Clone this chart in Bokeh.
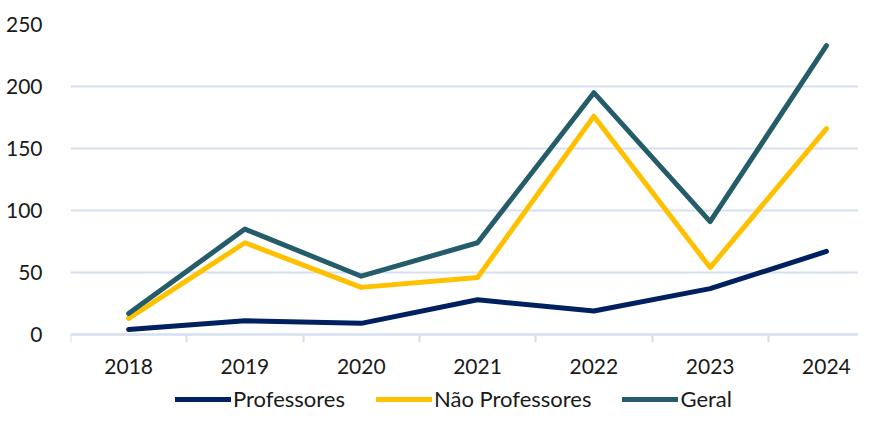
from bokeh.plotting import figure
from bokeh.models import Range1d, FixedTicker, Legend, LegendItem
from bokeh.embed import file_html
from bokeh.resources import INLINE

years = [2018, 2019, 2020, 2021, 2022, 2023, 2024]
professores = [4, 11, 9, 28, 19, 37, 67]
nao_professores = [13, 74, 38, 46, 176, 54, 166]
geral = [17, 85, 47, 74, 195, 91, 233]
y_ticks = [0, 50, 100, 150, 200, 250]

FONT = "Lato"
GRID = "#D6E0F0"
FW = 788             # frame width (px)
LEFT, TOP = 70, 24   # borders (px)
PLOT_H = 310         # px between value 0 and value 250
BELOW = 78           # px below the zero line (axis labels + legend)
CAT_PX = 116.3       # px per category
px_per_unit = PLOT_H / 250

p = figure(
    frame_width=FW, frame_height=PLOT_H + BELOW,
    min_border_left=LEFT, min_border_right=0, min_border_top=TOP, min_border_bottom=0,
    x_range=Range1d(years[0] - 0.5, years[0] - 0.5 + FW / CAT_PX),
    y_range=Range1d(-BELOW / px_per_unit, 250),
    output_backend="svg", toolbar_location=None,
)
p.outline_line_color = None
p.background_fill_color = "white"

# axes
p.yaxis.ticker = FixedTicker(ticks=y_ticks)
p.yaxis.axis_line_color = None
p.yaxis.major_tick_line_color = None
p.yaxis.minor_tick_line_color = None
p.yaxis.major_label_text_font = FONT
p.yaxis.major_label_text_font_size = "21px"
p.yaxis.major_label_text_color = "#1a1a1a"
p.yaxis.major_label_standoff = 22

p.xaxis.fixed_location = 0
p.xaxis.ticker = FixedTicker(ticks=years, minor_ticks=[y - 0.5 for y in years] + [years[-1] + 0.5])
p.xaxis.axis_line_color = GRID
p.xaxis.axis_line_width = 2
p.xaxis.major_tick_line_color = None
p.xaxis.major_tick_out = 0
p.xaxis.major_tick_in = 0
p.xaxis.minor_tick_line_color = GRID
p.xaxis.minor_tick_line_width = 2
p.xaxis.minor_tick_out = 8
p.xaxis.minor_tick_in = 0
p.xaxis.major_label_text_font = FONT
p.xaxis.major_label_text_font_size = "21px"
p.xaxis.major_label_text_color = "#1a1a1a"
p.xaxis.major_label_standoff = 16

p.xgrid.grid_line_color = None
p.ygrid.grid_line_color = GRID
p.ygrid.grid_line_width = 2

series = [
    ("Professores", professores, "#002060"),
    ("Não Professores", nao_professores, "#FFC000"),
    ("Geral", geral, "#245D69"),
]
items = []
for name, vals, col in series:
    r = p.line(years, vals, line_color=col, line_width=5, line_cap="round", line_join="round")
    items.append(LegendItem(label=name, renderers=[r]))

legend = Legend(items=items, orientation="horizontal", location=(105, 0),
                label_text_font=FONT, label_text_font_size="22px", label_text_color="#1a1a1a",
                glyph_width=56, glyph_height=22, label_height=22, label_standoff=2, spacing=31,
                border_line_color=None, background_fill_alpha=0,
                margin=0, padding=0)
p.add_layout(legend, "center")

open("out.html", "w").write(file_html(p, INLINE))
